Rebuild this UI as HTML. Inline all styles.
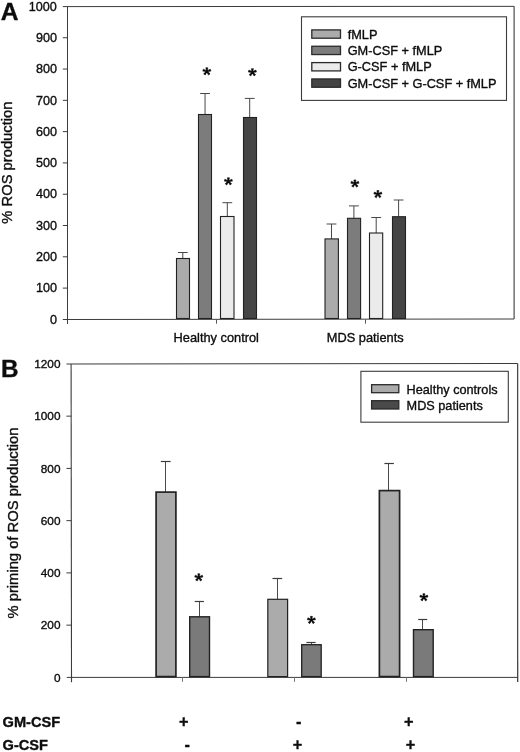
<!DOCTYPE html>
<html><head><meta charset="utf-8"><title>ROS production</title>
<style>
html,body{margin:0;padding:0;background:#fff;}
body{width:520px;height:752px;overflow:hidden;font-family:"Liberation Sans", sans-serif;}
svg{display:block;will-change:transform;font-family:"Liberation Sans", sans-serif;}
text{fill:#0d0d0d;stroke:#0d0d0d;stroke-width:0.35px;stroke-linejoin:round;}
</style></head><body>
<svg width="520" height="752" viewBox="0 0 520 752">
<rect x="0" y="0" width="520" height="752" fill="#ffffff"/>
<!-- Panel A -->
<line x1="62.80" y1="6.60" x2="514.10" y2="6.35" stroke="#3c3c3c" stroke-width="1"/>
<line x1="514.10" y1="6.35" x2="514.10" y2="319.00" stroke="#3c3c3c" stroke-width="1.1"/>
<line x1="67.50" y1="319.50" x2="514.10" y2="319.00" stroke="#3c3c3c" stroke-width="1"/>
<line x1="67.50" y1="6.50" x2="67.50" y2="324.00" stroke="#3c3c3c" stroke-width="1"/>
<text x="56.90" y="323.60" font-size="12.6" text-anchor="end" font-weight="400" >0</text>
<line x1="62.80" y1="288.10" x2="67.50" y2="288.10" stroke="#3c3c3c" stroke-width="1"/>
<text x="56.90" y="292.30" font-size="12.6" text-anchor="end" font-weight="400" >100</text>
<line x1="62.80" y1="256.81" x2="67.50" y2="256.81" stroke="#3c3c3c" stroke-width="1"/>
<text x="56.90" y="261.01" font-size="12.6" text-anchor="end" font-weight="400" >200</text>
<line x1="62.80" y1="225.51" x2="67.50" y2="225.51" stroke="#3c3c3c" stroke-width="1"/>
<text x="56.90" y="229.71" font-size="12.6" text-anchor="end" font-weight="400" >300</text>
<line x1="62.80" y1="194.22" x2="67.50" y2="194.22" stroke="#3c3c3c" stroke-width="1"/>
<text x="56.90" y="198.42" font-size="12.6" text-anchor="end" font-weight="400" >400</text>
<line x1="62.80" y1="162.92" x2="67.50" y2="162.92" stroke="#3c3c3c" stroke-width="1"/>
<text x="56.90" y="167.12" font-size="12.6" text-anchor="end" font-weight="400" >500</text>
<line x1="62.80" y1="131.63" x2="67.50" y2="131.63" stroke="#3c3c3c" stroke-width="1"/>
<text x="56.90" y="135.83" font-size="12.6" text-anchor="end" font-weight="400" >600</text>
<line x1="62.80" y1="100.33" x2="67.50" y2="100.33" stroke="#3c3c3c" stroke-width="1"/>
<text x="56.90" y="104.53" font-size="12.6" text-anchor="end" font-weight="400" >700</text>
<line x1="62.80" y1="69.04" x2="67.50" y2="69.04" stroke="#3c3c3c" stroke-width="1"/>
<text x="56.90" y="73.24" font-size="12.6" text-anchor="end" font-weight="400" >800</text>
<line x1="62.80" y1="37.74" x2="67.50" y2="37.74" stroke="#3c3c3c" stroke-width="1"/>
<text x="56.90" y="41.94" font-size="12.6" text-anchor="end" font-weight="400" >900</text>
<text x="56.90" y="10.65" font-size="12.6" text-anchor="end" font-weight="400" >1000</text>
<line x1="62.80" y1="319.50" x2="67.50" y2="319.50" stroke="#3c3c3c" stroke-width="1"/>
<line x1="216.50" y1="319.50" x2="216.50" y2="323.70" stroke="#555555" stroke-width="1"/>
<line x1="365.50" y1="319.50" x2="365.50" y2="323.70" stroke="#555555" stroke-width="1"/>
<line x1="182.80" y1="252.50" x2="182.80" y2="258.50" stroke="#484848" stroke-width="1"/>
<line x1="177.90" y1="252.50" x2="187.70" y2="252.50" stroke="#484848" stroke-width="1"/>
<rect x="176.50" y="258.50" width="13.00" height="60.00" fill="#ababab" stroke="#222" stroke-width="1.1"/>
<line x1="205.05" y1="93.50" x2="205.05" y2="114.50" stroke="#484848" stroke-width="1"/>
<line x1="200.15" y1="93.50" x2="209.95" y2="93.50" stroke="#484848" stroke-width="1"/>
<rect x="198.50" y="114.50" width="13.00" height="204.00" fill="#7c7c7c" stroke="#222" stroke-width="1.1"/>
<line x1="227.30" y1="202.70" x2="227.30" y2="216.50" stroke="#484848" stroke-width="1"/>
<line x1="222.40" y1="202.70" x2="232.20" y2="202.70" stroke="#484848" stroke-width="1"/>
<rect x="220.50" y="216.50" width="13.50" height="102.00" fill="#ebebeb" stroke="#222" stroke-width="1.1"/>
<line x1="249.70" y1="98.40" x2="249.70" y2="117.50" stroke="#484848" stroke-width="1"/>
<line x1="244.80" y1="98.40" x2="254.60" y2="98.40" stroke="#484848" stroke-width="1"/>
<rect x="243.50" y="117.50" width="13.00" height="201.00" fill="#454545" stroke="#222" stroke-width="1.1"/>
<line x1="331.50" y1="224.00" x2="331.50" y2="238.90" stroke="#484848" stroke-width="1"/>
<line x1="326.60" y1="224.00" x2="336.40" y2="224.00" stroke="#484848" stroke-width="1"/>
<rect x="325.00" y="238.90" width="13.40" height="79.60" fill="#ababab" stroke="#222" stroke-width="1.1"/>
<line x1="353.90" y1="205.90" x2="353.90" y2="218.30" stroke="#484848" stroke-width="1"/>
<line x1="349.00" y1="205.90" x2="358.80" y2="205.90" stroke="#484848" stroke-width="1"/>
<rect x="347.50" y="218.30" width="13.10" height="100.20" fill="#7c7c7c" stroke="#222" stroke-width="1.1"/>
<line x1="376.20" y1="217.50" x2="376.20" y2="233.00" stroke="#484848" stroke-width="1"/>
<line x1="371.30" y1="217.50" x2="381.10" y2="217.50" stroke="#484848" stroke-width="1"/>
<rect x="369.50" y="233.00" width="13.20" height="85.50" fill="#ebebeb" stroke="#222" stroke-width="1.1"/>
<line x1="398.60" y1="200.00" x2="398.60" y2="216.70" stroke="#484848" stroke-width="1"/>
<line x1="393.70" y1="200.00" x2="403.50" y2="200.00" stroke="#484848" stroke-width="1"/>
<rect x="392.50" y="216.70" width="13.00" height="101.80" fill="#454545" stroke="#222" stroke-width="1.1"/>
<text x="216.30" y="342.00" font-size="12.8" text-anchor="middle" font-weight="400" >Healthy control</text>
<text x="365.20" y="341.80" font-size="12.8" text-anchor="middle" font-weight="400" >MDS patients</text>
<rect x="301.50" y="16.80" width="205.00" height="83.60" fill="#fff" stroke="#3c3c3c" stroke-width="1.1"/>
<rect x="311.80" y="29.90" width="28.70" height="8.30" fill="#ababab" stroke="#2a2a2a" stroke-width="1.3"/>
<text x="347.70" y="38.65" font-size="12.75" text-anchor="start" font-weight="400" >fMLP</text>
<rect x="311.80" y="46.25" width="28.70" height="8.30" fill="#7c7c7c" stroke="#2a2a2a" stroke-width="1.3"/>
<text x="347.70" y="55.00" font-size="12.75" text-anchor="start" font-weight="400" >GM-CSF + fMLP</text>
<rect x="311.80" y="62.60" width="28.70" height="8.30" fill="#ebebeb" stroke="#2a2a2a" stroke-width="1.3"/>
<text x="347.70" y="71.35" font-size="12.75" text-anchor="start" font-weight="400" >G-CSF + fMLP</text>
<rect x="311.80" y="78.95" width="28.70" height="8.30" fill="#454545" stroke="#2a2a2a" stroke-width="1.3"/>
<text x="347.70" y="87.70" font-size="12.75" text-anchor="start" font-weight="400" >GM-CSF + G-CSF + fMLP</text>
<text x="0.00" y="0.00" font-size="14.75" text-anchor="middle" font-weight="400" transform="translate(12.2,162.6) rotate(-90)">% ROS production</text>
<text x="0.80" y="19.80" font-size="24.6" text-anchor="start" font-weight="700" >A</text>
<!-- Panel B -->
<line x1="66.50" y1="363.95" x2="517.65" y2="363.50" stroke="#3c3c3c" stroke-width="1.1"/>
<line x1="517.65" y1="363.50" x2="517.70" y2="682.00" stroke="#3c3c3c" stroke-width="1.2"/>
<line x1="66.80" y1="677.40" x2="517.65" y2="677.40" stroke="#3c3c3c" stroke-width="1"/>
<line x1="71.10" y1="363.90" x2="71.50" y2="682.20" stroke="#3c3c3c" stroke-width="1.1"/>
<text x="60.50" y="681.60" font-size="11.8" text-anchor="end" font-weight="400" >0</text>
<line x1="66.40" y1="625.15" x2="71.30" y2="625.15" stroke="#3c3c3c" stroke-width="1"/>
<text x="60.50" y="629.35" font-size="11.8" text-anchor="end" font-weight="400" >200</text>
<line x1="66.40" y1="572.90" x2="71.30" y2="572.90" stroke="#3c3c3c" stroke-width="1"/>
<text x="60.50" y="577.10" font-size="11.8" text-anchor="end" font-weight="400" >400</text>
<line x1="66.40" y1="520.65" x2="71.30" y2="520.65" stroke="#3c3c3c" stroke-width="1"/>
<text x="60.50" y="524.85" font-size="11.8" text-anchor="end" font-weight="400" >600</text>
<line x1="66.40" y1="468.40" x2="71.30" y2="468.40" stroke="#3c3c3c" stroke-width="1"/>
<text x="60.50" y="472.60" font-size="11.8" text-anchor="end" font-weight="400" >800</text>
<line x1="66.40" y1="416.15" x2="71.30" y2="416.15" stroke="#3c3c3c" stroke-width="1"/>
<text x="60.50" y="420.35" font-size="11.8" text-anchor="end" font-weight="400" >1000</text>
<text x="60.50" y="368.10" font-size="11.8" text-anchor="end" font-weight="400" >1200</text>
<line x1="182.50" y1="677.40" x2="182.50" y2="681.80" stroke="#777" stroke-width="1"/>
<line x1="294.50" y1="677.40" x2="294.50" y2="681.80" stroke="#777" stroke-width="1"/>
<line x1="406.50" y1="677.40" x2="406.50" y2="681.80" stroke="#777" stroke-width="1"/>
<line x1="165.50" y1="461.80" x2="165.50" y2="492.10" stroke="#4a4a4a" stroke-width="1"/>
<line x1="160.80" y1="461.50" x2="170.60" y2="461.50" stroke="#3c3c3c" stroke-width="1.2"/>
<rect x="156.10" y="492.10" width="19.80" height="184.50" fill="#ababab" stroke="#222" stroke-width="1.7"/>
<line x1="199.50" y1="601.00" x2="199.50" y2="616.80" stroke="#4a4a4a" stroke-width="1"/>
<line x1="194.70" y1="601.50" x2="203.90" y2="601.50" stroke="#3c3c3c" stroke-width="1.2"/>
<rect x="189.70" y="616.80" width="19.80" height="59.80" fill="#7a7a7a" stroke="#222" stroke-width="1.4"/>
<line x1="277.50" y1="578.50" x2="277.50" y2="599.30" stroke="#4a4a4a" stroke-width="1"/>
<line x1="272.50" y1="578.50" x2="282.20" y2="578.50" stroke="#3c3c3c" stroke-width="1.2"/>
<rect x="267.80" y="599.30" width="19.80" height="77.30" fill="#ababab" stroke="#222" stroke-width="1.2"/>
<line x1="311.50" y1="642.70" x2="311.50" y2="644.70" stroke="#4a4a4a" stroke-width="1"/>
<line x1="306.40" y1="642.50" x2="315.60" y2="642.50" stroke="#3c3c3c" stroke-width="1.2"/>
<rect x="301.70" y="644.70" width="19.50" height="31.90" fill="#7a7a7a" stroke="#222" stroke-width="1.3"/>
<line x1="388.50" y1="463.10" x2="388.50" y2="490.60" stroke="#4a4a4a" stroke-width="1"/>
<line x1="384.40" y1="463.50" x2="393.90" y2="463.50" stroke="#3c3c3c" stroke-width="1.2"/>
<rect x="379.40" y="490.60" width="20.20" height="186.00" fill="#ababab" stroke="#222" stroke-width="1.7"/>
<line x1="422.50" y1="619.30" x2="422.50" y2="629.70" stroke="#4a4a4a" stroke-width="1"/>
<line x1="418.20" y1="619.50" x2="427.20" y2="619.50" stroke="#3c3c3c" stroke-width="1.2"/>
<rect x="413.50" y="629.70" width="19.70" height="46.90" fill="#7a7a7a" stroke="#222" stroke-width="1.4"/>
<rect x="360.90" y="371.30" width="147.40" height="50.90" fill="#fff" stroke="#3c3c3c" stroke-width="1.1"/>
<rect x="371.60" y="384.70" width="27.20" height="8.00" fill="#ababab" stroke="#2a2a2a" stroke-width="1.3"/>
<text x="406.60" y="393.60" font-size="12.7" text-anchor="start" font-weight="400" >Healthy controls</text>
<rect x="371.60" y="400.70" width="27.20" height="8.30" fill="#4a4a4a" stroke="#2a2a2a" stroke-width="1.3"/>
<text x="406.60" y="409.70" font-size="12.7" text-anchor="start" font-weight="400" >MDS patients</text>
<text x="0.00" y="0.00" font-size="14.75" text-anchor="middle" font-weight="400" transform="translate(18.0,523.0) rotate(-90)">% priming of ROS production</text>
<text x="0.90" y="377.20" font-size="24.3" text-anchor="start" font-weight="700" >B</text>
<g transform="translate(206.85,71.30)"><path d="M0.42,0.00 L1.02,-3.55 L-1.02,-3.55 L-0.42,-0.00Z M0.12,0.40 L4.08,-0.18 L3.48,-2.13 L-0.12,-0.40Z M0.12,-0.40 L-3.48,-2.13 L-4.08,-0.18 L-0.12,0.40Z M-0.33,0.26 L1.63,3.74 L3.24,2.48 L0.33,-0.26Z M-0.33,-0.26 L-3.24,2.48 L-1.63,3.74 L0.33,0.26Z" fill="#0a0a0a" stroke="#0a0a0a" stroke-width="0.55" stroke-linejoin="round"/><circle cx="0" cy="0" r="1.0" fill="#0a0a0a"/></g>
<g transform="translate(252.40,72.20)"><path d="M0.42,0.00 L1.02,-3.55 L-1.02,-3.55 L-0.42,-0.00Z M0.12,0.40 L4.08,-0.18 L3.48,-2.13 L-0.12,-0.40Z M0.12,-0.40 L-3.48,-2.13 L-4.08,-0.18 L-0.12,0.40Z M-0.33,0.26 L1.63,3.74 L3.24,2.48 L0.33,-0.26Z M-0.33,-0.26 L-3.24,2.48 L-1.63,3.74 L0.33,0.26Z" fill="#0a0a0a" stroke="#0a0a0a" stroke-width="0.55" stroke-linejoin="round"/><circle cx="0" cy="0" r="1.0" fill="#0a0a0a"/></g>
<g transform="translate(228.40,181.30)"><path d="M0.42,0.00 L1.02,-3.55 L-1.02,-3.55 L-0.42,-0.00Z M0.12,0.40 L4.08,-0.18 L3.48,-2.13 L-0.12,-0.40Z M0.12,-0.40 L-3.48,-2.13 L-4.08,-0.18 L-0.12,0.40Z M-0.33,0.26 L1.63,3.74 L3.24,2.48 L0.33,-0.26Z M-0.33,-0.26 L-3.24,2.48 L-1.63,3.74 L0.33,0.26Z" fill="#0a0a0a" stroke="#0a0a0a" stroke-width="0.55" stroke-linejoin="round"/><circle cx="0" cy="0" r="1.0" fill="#0a0a0a"/></g>
<g transform="translate(354.90,183.45)"><path d="M0.42,0.00 L1.02,-3.55 L-1.02,-3.55 L-0.42,-0.00Z M0.12,0.40 L4.08,-0.18 L3.48,-2.13 L-0.12,-0.40Z M0.12,-0.40 L-3.48,-2.13 L-4.08,-0.18 L-0.12,0.40Z M-0.33,0.26 L1.63,3.74 L3.24,2.48 L0.33,-0.26Z M-0.33,-0.26 L-3.24,2.48 L-1.63,3.74 L0.33,0.26Z" fill="#0a0a0a" stroke="#0a0a0a" stroke-width="0.55" stroke-linejoin="round"/><circle cx="0" cy="0" r="1.0" fill="#0a0a0a"/></g>
<g transform="translate(377.90,194.10)"><path d="M0.42,0.00 L1.02,-3.55 L-1.02,-3.55 L-0.42,-0.00Z M0.12,0.40 L4.08,-0.18 L3.48,-2.13 L-0.12,-0.40Z M0.12,-0.40 L-3.48,-2.13 L-4.08,-0.18 L-0.12,0.40Z M-0.33,0.26 L1.63,3.74 L3.24,2.48 L0.33,-0.26Z M-0.33,-0.26 L-3.24,2.48 L-1.63,3.74 L0.33,0.26Z" fill="#0a0a0a" stroke="#0a0a0a" stroke-width="0.55" stroke-linejoin="round"/><circle cx="0" cy="0" r="1.0" fill="#0a0a0a"/></g>
<g transform="translate(198.80,577.30)"><path d="M0.42,0.00 L1.02,-3.55 L-1.02,-3.55 L-0.42,-0.00Z M0.12,0.40 L4.08,-0.18 L3.48,-2.13 L-0.12,-0.40Z M0.12,-0.40 L-3.48,-2.13 L-4.08,-0.18 L-0.12,0.40Z M-0.33,0.26 L1.63,3.74 L3.24,2.48 L0.33,-0.26Z M-0.33,-0.26 L-3.24,2.48 L-1.63,3.74 L0.33,0.26Z" fill="#0a0a0a" stroke="#0a0a0a" stroke-width="0.55" stroke-linejoin="round"/><circle cx="0" cy="0" r="1.0" fill="#0a0a0a"/></g>
<g transform="translate(311.40,619.90)"><path d="M0.42,0.00 L1.02,-3.55 L-1.02,-3.55 L-0.42,-0.00Z M0.12,0.40 L4.08,-0.18 L3.48,-2.13 L-0.12,-0.40Z M0.12,-0.40 L-3.48,-2.13 L-4.08,-0.18 L-0.12,0.40Z M-0.33,0.26 L1.63,3.74 L3.24,2.48 L0.33,-0.26Z M-0.33,-0.26 L-3.24,2.48 L-1.63,3.74 L0.33,0.26Z" fill="#0a0a0a" stroke="#0a0a0a" stroke-width="0.55" stroke-linejoin="round"/><circle cx="0" cy="0" r="1.0" fill="#0a0a0a"/></g>
<g transform="translate(423.90,597.20)"><path d="M0.42,0.00 L1.02,-3.55 L-1.02,-3.55 L-0.42,-0.00Z M0.12,0.40 L4.08,-0.18 L3.48,-2.13 L-0.12,-0.40Z M0.12,-0.40 L-3.48,-2.13 L-4.08,-0.18 L-0.12,0.40Z M-0.33,0.26 L1.63,3.74 L3.24,2.48 L0.33,-0.26Z M-0.33,-0.26 L-3.24,2.48 L-1.63,3.74 L0.33,0.26Z" fill="#0a0a0a" stroke="#0a0a0a" stroke-width="0.55" stroke-linejoin="round"/><circle cx="0" cy="0" r="1.0" fill="#0a0a0a"/></g>
<text x="2.60" y="727.30" font-size="14.6" text-anchor="start" font-weight="700" >GM-CSF</text>
<text x="2.60" y="749.70" font-size="14.6" text-anchor="start" font-weight="700" >G-CSF</text>
<text x="183.80" y="727.16" font-size="16.3" text-anchor="middle" font-weight="700" >+</text>
<text x="187.30" y="749.94" font-size="16.3" text-anchor="middle" font-weight="700" >-</text>
<text x="298.80" y="727.24" font-size="16.3" text-anchor="middle" font-weight="700" >-</text>
<text x="297.50" y="749.86" font-size="16.3" text-anchor="middle" font-weight="700" >+</text>
<text x="408.80" y="727.26" font-size="16.3" text-anchor="middle" font-weight="700" >+</text>
<text x="410.40" y="750.06" font-size="16.3" text-anchor="middle" font-weight="700" >+</text>
</svg>
</body></html>
